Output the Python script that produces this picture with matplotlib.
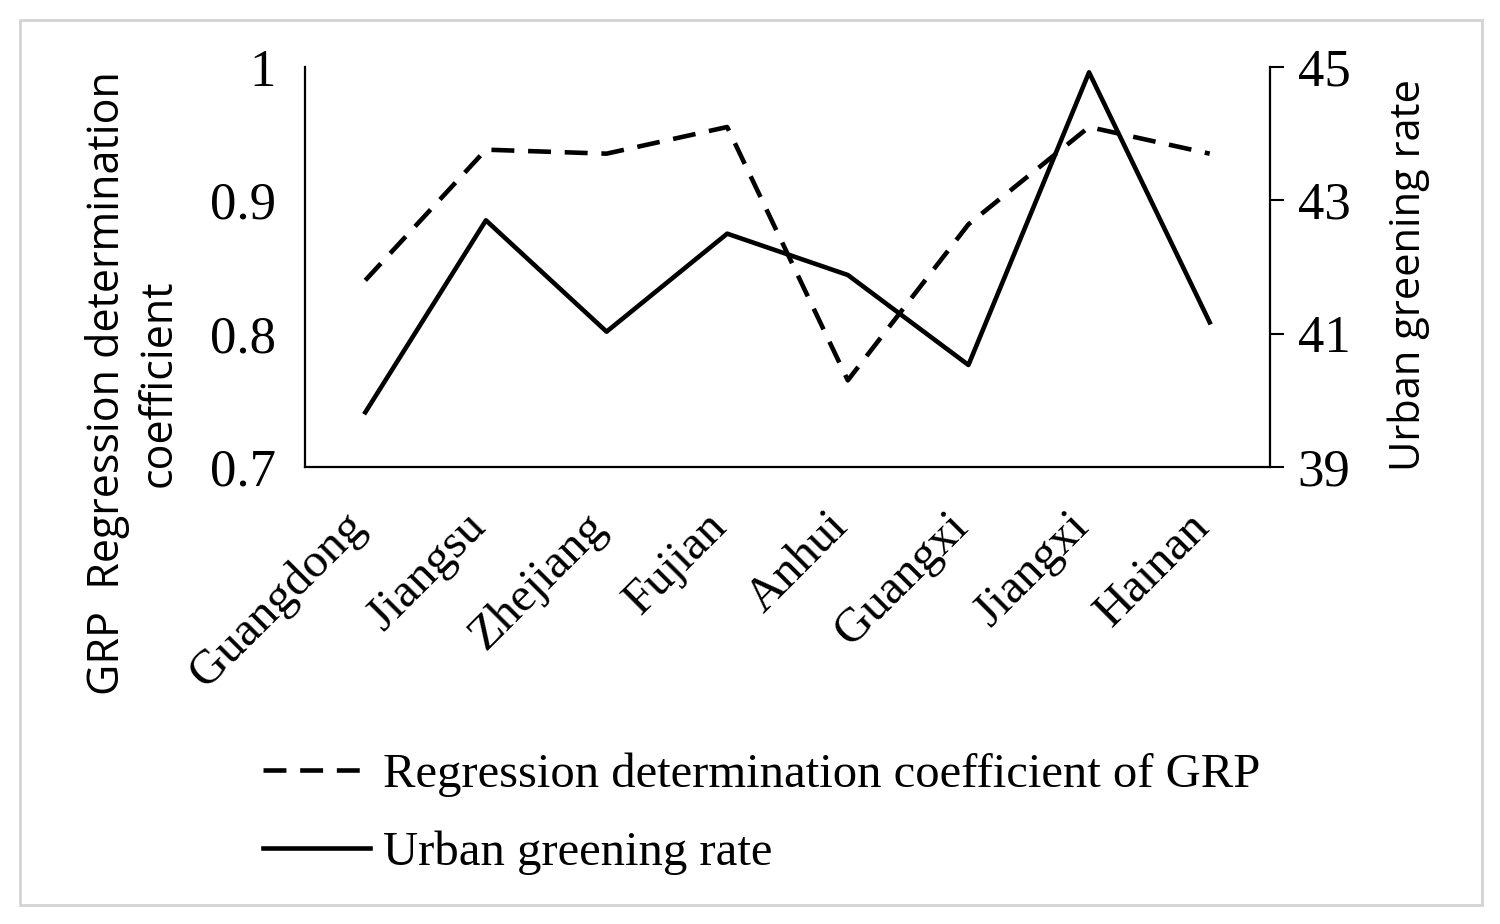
import matplotlib
matplotlib.use("Agg")
import matplotlib.pyplot as plt
import matplotlib.transforms as mtransforms
from matplotlib.patches import Rectangle

# values
provinces = ["Guangdong", "Jiangsu", "Zhejiang", "Fujian", "Anhui", "Guangxi", "Jiangxi", "Hainan"]
grp_r2 = [0.840, 0.938, 0.935, 0.955, 0.765, 0.882, 0.955, 0.935]
greening = [39.82, 42.70, 41.03, 42.50, 41.88, 40.53, 44.92, 41.17]

left_ticks = [0.7, 0.8, 0.9, 1.0]
left_labels = ["0.7", "0.8", "0.9", "1"]
right_ticks = [39, 41, 43, 45]

serif = "Liberation Serif"
sans = "Open Sans"

fig = plt.figure(figsize=(15, 9.24), dpi=100)
fig.patches.append(Rectangle((20 / 1500, 1 - 905 / 924), 1462 / 1500, 885 / 924,
                             transform=fig.transFigure, fill=False,
                             edgecolor="#d4d4d4", linewidth=2))

ax = fig.add_axes([305 / 1500, 1 - 467 / 924, 965 / 1500, 400 / 924])
ax2 = ax.twinx()

x = range(len(provinces))
l1, = ax.plot(x, grp_r2, color="black", linewidth=3.3, dashes=(5, 3),
              label="Regression determination coefficient of GRP")
l2, = ax2.plot(x, greening, color="black", linewidth=3.3,
               label="Urban greening rate")

ax.set_xlim(-0.5, len(provinces) - 0.5)
ax.set_ylim(0.7, 1.0)
ax2.set_ylim(39, 45)

ax.set_yticks(left_ticks)
ax.set_yticklabels(left_labels, family=serif, fontsize=38)
ax.tick_params(axis="y", length=0, pad=21)
ax.set_xticks(list(x))
ax.set_xticklabels(provinces, family=serif, fontsize=35, rotation=45,
                   ha="right", va="center", rotation_mode="anchor")
ax.tick_params(axis="x", length=0, pad=38)
shift = mtransforms.ScaledTranslation(-7 / 100, 0, fig.dpi_scale_trans)
for lbl in ax.get_xticklabels():
    lbl.set_transform(lbl.get_transform() + shift)

ax2.set_yticks(right_ticks)
ax2.set_yticklabels([str(t) for t in right_ticks], family=serif, fontsize=38)
ax2.tick_params(axis="y", direction="out", length=10, width=1.5, pad=10)

for a in (ax, ax2):
    a.spines["top"].set_visible(False)
    for s in ("left", "bottom", "right"):
        a.spines[s].set_linewidth(1.6)
ax.spines["right"].set_visible(False)
ax2.spines["left"].set_visible(False)
ax2.spines["bottom"].set_visible(False)

ax.set_ylabel("GRP  Regression determination\ncoefficient", family=sans,
              fontsize=31, linespacing=1.2)
ax.yaxis.set_label_coords(-0.128, 0.21)
ax2.set_ylabel("Urban greening rate", family=sans, fontsize=30)
ax2.yaxis.set_label_coords(1.122, 0.48)

fig.legend(handles=[l1, l2], loc="upper left",
           bbox_to_anchor=(219 / 1500, 1 - 709 / 924), frameon=False,
           prop={"family": serif, "size": 35}, handlelength=2.2,
           handletextpad=0.27, labelspacing=0.69)

fig.savefig("out.png", dpi=100)
